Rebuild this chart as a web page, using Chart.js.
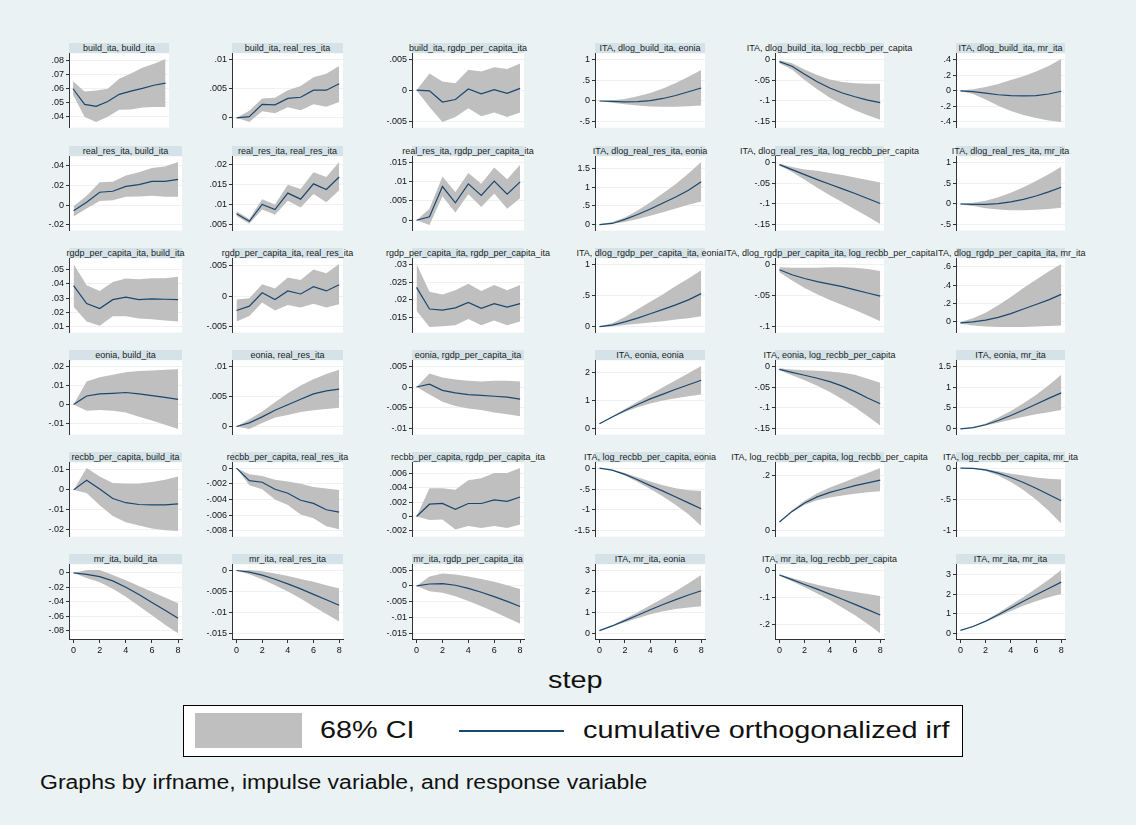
<!DOCTYPE html>
<html>
<head>
<meta charset="utf-8">
<script src="https://cdn.jsdelivr.net/npm/chart.js@4.4.0/dist/chart.umd.min.js"></script>
<style>
  body { margin: 0; background: #eaf2f3; font-family: "Liberation Sans", Arial, sans-serif; }
  #page { position: relative; width: 1136px; height: 825px; overflow: hidden; background: #eaf2f3; }
  canvas { position: absolute; }
  .ttl { position: absolute; height: 10px; background: #d5e3e9; display: flex; justify-content: center;
         align-items: center; font-size: 9px; color: #1b1b1b; white-space: nowrap; line-height: 10px; }
  .big { position: absolute; white-space: nowrap; color: #111; transform-origin: 0 50%; }
</style>
</head>
<body>
<div id="page">
  <div class="big" id="stepLabel" style="left:548px; top:666px; font-size:24px; transform:scaleX(1.2);">step</div>
  <div id="legendBox" style="position:absolute; left:183px; top:705px; width:778px; height:50px; border:1px solid #000; background:#fff;">
    <div style="position:absolute; left:11px; top:7px; width:107px; height:35px; background:#bfbfbf;"></div>
    <div class="big" style="left:136px; top:10px; font-size:24px; transform:scaleX(1.2);">68% CI</div>
    <div style="position:absolute; left:275px; top:24px; width:105px; height:2px; background:#1a476f;"></div>
    <div class="big" style="left:399px; top:10px; font-size:24px; transform:scaleX(1.2);">cumulative orthogonalized irf</div>
  </div>
  <div class="big" id="note" style="left:40px; top:771px; font-size:20px; transform:scaleX(1.15);">Graphs by irfname, impulse variable, and response variable</div>
</div>
<script>
// Horizon steps of the impulse-response functions
const steps = [0, 1, 2, 3, 4, 5, 6, 7, 8];
const stepTicks = ["0", "2", "4", "6", "8"];

// Panel titles, row by row (impulse, response)
const titles = [
  "build_ita, build_ita", "build_ita, real_res_ita", "build_ita, rgdp_per_capita_ita",
  "ITA, dlog_build_ita, eonia", "ITA, dlog_build_ita, log_recbb_per_capita", "ITA, dlog_build_ita, mr_ita",
  "real_res_ita, build_ita", "real_res_ita, real_res_ita", "real_res_ita, rgdp_per_capita_ita",
  "ITA, dlog_real_res_ita, eonia", "ITA, dlog_real_res_ita, log_recbb_per_capita", "ITA, dlog_real_res_ita, mr_ita",
  "rgdp_per_capita_ita, build_ita", "rgdp_per_capita_ita, real_res_ita", "rgdp_per_capita_ita, rgdp_per_capita_ita",
  "ITA, dlog_rgdp_per_capita_ita, eonia", "ITA, dlog_rgdp_per_capita_ita, log_recbb_per_capita", "ITA, dlog_rgdp_per_capita_ita, mr_ita",
  "eonia, build_ita", "eonia, real_res_ita", "eonia, rgdp_per_capita_ita",
  "ITA, eonia, eonia", "ITA, eonia, log_recbb_per_capita", "ITA, eonia, mr_ita",
  "recbb_per_capita, build_ita", "recbb_per_capita, real_res_ita", "recbb_per_capita, rgdp_per_capita_ita",
  "ITA, log_recbb_per_capita, eonia", "ITA, log_recbb_per_capita, log_recbb_per_capita", "ITA, log_recbb_per_capita, mr_ita",
  "mr_ita, build_ita", "mr_ita, real_res_ita", "mr_ita, rgdp_per_capita_ita",
  "ITA, mr_ita, eonia", "ITA, mr_ita, log_recbb_per_capita", "ITA, mr_ita, mr_ita"
];

// Row 1
const irf11 = [.060, .0488, .0474, .0508, .056, .0583, .0603, .0625, .064];
const lo11  = [.0557, .0397, .0362, .040, .045, .0452, .0465, .047, .047];
const hi11  = [.0653, .058, .0588, .060, .0672, .071, .075, .078, .0813];
const yt11  = [".04", ".05", ".06", ".07", ".08"];

const irf12 = [0, .0002, .0023, .0022, .0033, .0035, .0047, .0047, .0058];
const lo12  = [0, -.0007, .0011, .0008, .0018, .0013, .0023, .0019, .0027];
const hi12  = [0, .0012, .0033, .0034, .0047, .0054, .0069, .0075, .0088];
const yt12  = ["0", ".005", ".01"];

const irf13 = [0, -.0001, -.0019, -.0015, .0002, -.0006, .0001, -.0005, .0003];
const lo13  = [0, -.0027, -.0051, -.0043, -.0029, -.0042, -.0036, -.0043, -.0036];
const hi13  = [0, .0027, .0014, .0011, .0033, .0030, .0037, .0034, .0043];
const yt13  = ["-.005", "0", ".005"];

const irf14 = [0, -.01, -.02, -.015, .01, .06, .13, .22, .31];
const lo14  = [0, -.04, -.08, -.11, -.13, -.135, -.135, -.125, -.11];
const hi14  = [0, .015, .05, .11, .19, .30, .43, .58, .74];
const yt14  = ["-.5", "0", ".5", "1"];

const irf15 = [-.006, -.017, -.036, -.054, -.069, -.081, -.09, -.098, -.104];
const lo15  = [-.010, -.025, -.050, -.072, -.092, -.108, -.122, -.134, -.145];
const hi15  = [-.003, -.010, -.025, -.038, -.049, -.055, -.058, -.059, -.059];
const yt15  = ["-.15", "-.1", "-.05", "0"];

const irf16 = [0, -.01, -.03, -.05, -.06, -.065, -.06, -.04, -.005];
const lo16  = [-.005, -.04, -.11, -.19, -.26, -.31, -.35, -.38, -.40];
const hi16  = [.005, .02, .05, .09, .14, .19, .25, .32, .41];
const yt16  = ["-.4", "-.2", "0", ".2", ".4"];

// Row 2
const irf21 = [-.0056, .003, .013, .014, .019, .0207, .024, .024, .026];
const lo21  = [-.0116, -.0035, .0042, .0049, .0084, .0088, .0095, .0084, .0084];
const hi21  = [-.001, .0095, .023, .0235, .030, .0333, .0375, .039, .0435];
const yt21  = ["-.02", "0", ".02", ".04"];

const irf22 = [.0078, .0059, .0101, .0088, .0129, .0114, .0152, .0138, .0169];
const lo22  = [.0072, .0053, .0088, .0075, .0110, .0093, .0127, .0106, .0136];
const hi22  = [.0084, .0065, .0114, .0101, .0150, .0139, .0181, .0169, .0206];
const yt22  = [".005", ".01", ".015", ".02"];

const irf23 = [0, .0009, .0087, .0045, .0094, .0064, .0101, .0067, .0099];
const lo23  = [0, -.0012, .0062, .002, .0067, .0034, .0069, .003, .0057];
const hi23  = [0, .003, .0113, .0073, .0122, .0094, .0136, .0106, .0143];
const yt23  = ["0", ".005", ".01", ".015"];

const irf24 = [0, .03, .14, .27, .42, .58, .74, .92, 1.15];
const lo24  = [-.01, .02, .07, .15, .24, .33, .43, .53, .62];
const hi24  = [.01, .07, .19, .38, .60, .84, 1.09, 1.37, 1.68];
const yt24  = ["0", ".5", "1", "1.5"];

const irf25 = [-.006, -.018, -.03, -.042, -.053, -.064, -.075, -.087, -.099];
const lo25  = [-.008, -.024, -.042, -.061, -.079, -.096, -.113, -.13, -.148];
const hi25  = [-.004, -.012, -.018, -.021, -.026, -.031, -.037, -.043, -.049];
const yt25  = ["-.15", "-.1", "-.05", "0"];

const irf26 = [0, -.01, -.01, .01, .05, .11, .19, .29, .40];
const lo26  = [-.01, -.05, -.10, -.13, -.15, -.15, -.14, -.12, -.09];
const hi26  = [.01, .03, .08, .16, .27, .40, .55, .71, .89];
const yt26  = ["-.5", "0", ".5", "1"];

// Row 3
const irf31 = [.0388, .0263, .0228, .029, .0308, .029, .0295, .0293, .029];
const lo31  = [.024, .0138, .0108, .0175, .0175, .0158, .0153, .0145, .0138];
const hi31  = [.0538, .039, .035, .0413, .0438, .0433, .044, .044, .045];
const yt31  = [".01", ".02", ".03", ".04", ".05"];

const irf32 = [-.0023, -.0016, .0006, -.0005, .0009, .0004, .0016, .0009, .0019];
const lo32  = [-.0041, -.0032, -.001, -.0023, -.0014, -.0018, -.0012, -.0018, -.0013];
const hi32  = [-.0005, -.0003, .002, .0013, .0031, .0027, .0044, .0038, .0053];
const yt32  = ["-.005", "0", ".005"];

const irf33 = [.0235, .0175, .0172, .0178, .0193, .0177, .019, .018, .019];
const lo33  = [.017, .0125, .0127, .013, .0147, .013, .0143, .013, .014];
const hi33  = [.030, .0223, .0215, .0227, .0245, .0225, .0242, .0227, .0242];
const yt33  = [".015", ".02", ".025", ".03"];

const irf34 = [.005, .03, .08, .14, .21, .28, .35, .43, .53];
const lo34  = [0, .01, .03, .05, .07, .09, .12, .14, .17];
const hi34  = [.01, .06, .16, .28, .40, .52, .65, .77, .90];
const yt34  = ["0", ".5", "1"];

const irf35 = [-.009, -.017, -.023, -.028, -.032, -.036, -.041, -.046, -.051];
const lo35  = [-.013, -.026, -.038, -.048, -.057, -.065, -.073, -.082, -.091];
const hi35  = [-.005, -.006, -.006, -.006, -.005, -.005, -.006, -.008, -.011];
const yt35  = ["-.1", "-.05", "0"];

const irf36 = [-.01, 0, .02, .05, .09, .14, .19, .24, .30];
const lo36  = [-.02, -.04, -.05, -.055, -.055, -.055, -.05, -.045, -.04];
const hi36  = [0, .04, .10, .18, .27, .37, .46, .55, .63];
const yt36  = ["0", ".2", ".4", ".6"];

// Row 4
const irf41 = [0, .0044, .0055, .0058, .0062, .0055, .0046, .0037, .0026];
const lo41  = [0, -.0033, -.0029, -.0033, -.0042, -.0064, -.0084, -.0106, -.0128];
const hi41  = [0, .0119, .0141, .0155, .0168, .0174, .0177, .0181, .0183];
const yt41  = ["-.01", "0", ".01", ".02"];

const irf42 = [0, .0006, .0016, .0027, .0036, .0045, .0054, .0059, .0062];
const lo42  = [0, -.0004, .0006, .0015, .0019, .0024, .0027, .0029, .0031];
const hi42  = [0, .0012, .0025, .004, .0055, .0068, .0078, .0087, .0094];
const yt42  = ["0", ".005", ".01"];

const irf43 = [0, .0007, -.0008, -.0014, -.0018, -.002, -.0022, -.0024, -.0029];
const lo43  = [0, -.0018, -.0035, -.0045, -.0051, -.0055, -.0061, -.0065, -.007];
const hi43  = [0, .0032, .0023, .0018, .0015, .0013, .0015, .0015, .0013];
const yt43  = ["-.01", "-.005", "0", ".005"];

const irf44 = [.18, .42, .65, .86, 1.06, 1.23, 1.40, 1.56, 1.72];
const lo44  = [.17, .40, .60, .77, .90, 1.00, 1.08, 1.15, 1.22];
const hi44  = [.19, .44, .70, .96, 1.22, 1.47, 1.72, 1.97, 2.22];
const yt44  = ["0", "1", "2"];

const irf45 = [-.008, -.015, -.022, -.029, -.037, -.048, -.061, -.076, -.09];
const lo45  = [-.010, -.022, -.034, -.047, -.062, -.079, -.098, -.12, -.142];
const hi45  = [-.005, -.008, -.010, -.011, -.013, -.016, -.021, -.03, -.04];
const yt45  = ["-.15", "-.1", "-.05", "0"];

const irf46 = [0, .03, .10, .20, .32, .45, .59, .73, .86];
const lo46  = [0, .025, .08, .15, .22, .29, .35, .40, .45];
const hi46  = [0, .04, .13, .27, .43, .61, .81, 1.04, 1.29];
const yt46  = ["0", ".5", "1", "1.5"];

// Row 5
const irf51 = [0, .0048, .0004, -.0043, -.0064, -.0073, -.0075, -.0075, -.007];
const lo51  = [0, -.0015, -.0077, -.013, -.0162, -.0178, -.0193, -.0202, -.0205];
const hi51  = [0, .0109, .0067, .0035, .0032, .0032, .0039, .005, .0067];
const yt51  = ["-.02", "-.01", "0", ".01"];

const irf52 = [0, -.0016, -.0018, -.0027, -.0032, -.0041, -.0045, -.0053, -.0056];
const lo52  = [0, -.0022, -.0027, -.004, -.0047, -.0059, -.0064, -.0074, -.0078];
const hi52  = [0, -.0008, -.001, -.0015, -.0017, -.002, -.0024, -.0026, -.0028];
const yt52  = ["-.008", "-.006", "-.004", "-.002", "0"];

const irf53 = [0, .0017, .0018, .001, .0018, .0018, .0023, .0021, .0027];
const lo53  = [0, -.0005, -.0004, -.0018, -.0013, -.0016, -.0013, -.0016, -.0011];
const hi53  = [0, .0039, .0039, .0037, .005, .0053, .006, .006, .0067];
const yt53  = ["-.002", "0", ".002", ".004", ".006"];

const irf54 = [0, -.05, -.15, -.28, -.42, -.55, -.69, -.83, -.97];
const lo54  = [0, -.06, -.18, -.33, -.50, -.68, -.88, -1.10, -1.38];
const hi54  = [0, -.04, -.12, -.22, -.32, -.41, -.48, -.53, -.55];
const yt54  = ["-1.5", "-1", "-.5", "0"];

const irf55 = [.032, .07, .10, .122, .138, .15, .162, .172, .182];
const lo55  = [.03, .066, .094, .11, .12, .127, .133, .138, .142];
const hi55  = [.034, .074, .108, .135, .155, .172, .19, .207, .225];
const yt55  = ["0", ".2"];

const irf56 = [0, -.005, -.03, -.08, -.15, -.23, -.32, -.42, -.52];
const lo56  = [0, -.01, -.045, -.12, -.22, -.35, -.50, -.68, -.88];
const hi56  = [0, -.003, -.02, -.05, -.09, -.12, -.15, -.17, -.18];
const yt56  = ["-1", "-.5", "0"];

// Row 6
const irf61 = [0, -.002, -.005, -.011, -.02, -.03, -.041, -.052, -.063];
const lo61  = [0, -.007, -.013, -.022, -.033, -.046, -.059, -.072, -.084];
const hi61  = [0, .004, .004, -.003, -.01, -.018, -.026, -.034, -.042];
const yt61  = ["-.08", "-.06", "-.04", "-.02", "0"];

const irf62 = [0, -.0004, -.0011, -.0021, -.0032, -.0044, -.0057, -.007, -.0083];
const lo62  = [0, -.0009, -.0021, -.0035, -.005, -.0067, -.0086, -.0104, -.0122];
const hi62  = [0, .0001, -.0002, -.0007, -.0013, -.002, -.0027, -.0035, -.0043];
const yt62  = ["-.015", "-.01", "-.005", "0"];

const irf63 = [0, .0006, .0007, .0002, -.0008, -.002, -.0034, -.0049, -.0065];
const lo63  = [0, -.0017, -.0022, -.0033, -.0048, -.0064, -.0082, -.0101, -.012];
const hi63  = [0, .003, .0039, .0036, .003, .0022, .0013, .0002, -.001];
const yt63  = ["-.015", "-.01", "-.005", "0", ".005"];

const irf64 = [.13, .35, .60, .86, 1.12, 1.37, 1.60, 1.82, 2.02];
const lo64  = [.12, .32, .52, .72, .90, 1.05, 1.15, 1.23, 1.28];
const hi64  = [.14, .38, .68, 1.0, 1.33, 1.66, 2.0, 2.37, 2.77];
const yt64  = ["0", "1", "2", "3"];

const irf65 = [-.018, -.035, -.053, -.07, -.088, -.107, -.126, -.145, -.165];
const lo65  = [-.021, -.041, -.063, -.086, -.11, -.138, -.166, -.198, -.232];
const hi65  = [-.015, -.029, -.042, -.054, -.064, -.073, -.08, -.088, -.095];
const yt65  = ["-.2", "-.1", "0"];

const irf66 = [.15, .35, .62, .95, 1.30, 1.65, 1.98, 2.30, 2.63];
const lo66  = [.14, .33, .58, .86, 1.15, 1.42, 1.65, 1.85, 2.02];
const hi66  = [.16, .37, .67, 1.05, 1.45, 1.87, 2.30, 2.75, 3.25];
const yt66  = ["0", "1", "2", "3"];

const panelData = [
  [irf11, lo11, hi11, yt11], [irf12, lo12, hi12, yt12], [irf13, lo13, hi13, yt13],
  [irf14, lo14, hi14, yt14], [irf15, lo15, hi15, yt15], [irf16, lo16, hi16, yt16],
  [irf21, lo21, hi21, yt21], [irf22, lo22, hi22, yt22], [irf23, lo23, hi23, yt23],
  [irf24, lo24, hi24, yt24], [irf25, lo25, hi25, yt25], [irf26, lo26, hi26, yt26],
  [irf31, lo31, hi31, yt31], [irf32, lo32, hi32, yt32], [irf33, lo33, hi33, yt33],
  [irf34, lo34, hi34, yt34], [irf35, lo35, hi35, yt35], [irf36, lo36, hi36, yt36],
  [irf41, lo41, hi41, yt41], [irf42, lo42, hi42, yt42], [irf43, lo43, hi43, yt43],
  [irf44, lo44, hi44, yt44], [irf45, lo45, hi45, yt45], [irf46, lo46, hi46, yt46],
  [irf51, lo51, hi51, yt51], [irf52, lo52, hi52, yt52], [irf53, lo53, hi53, yt53],
  [irf54, lo54, hi54, yt54], [irf55, lo55, hi55, yt55], [irf56, lo56, hi56, yt56],
  [irf61, lo61, hi61, yt61], [irf62, lo62, hi62, yt62], [irf63, lo63, hi63, yt63],
  [irf64, lo64, hi64, yt64], [irf65, lo65, hi65, yt65], [irf66, lo66, hi66, yt66]
];

// Grid geometry of the 6 x 6 panel layout
const colLeft  = [69, 232, 412, 595, 775, 956];
const colWidth = [113, 111, 112, 110, 109, 109];
const firstPanelWidth = 100;   // the top-left panel's plot region is narrower
const rowTop   = [43, 146, 248, 350, 452, 554];
const TITLE_H = 10, PLOT_H = 75;
const AXW = 40, PAD_T = 7, PAD_B = 7, PAD_R = 4, XAX_H = 18;

const FONT = '"Liberation Sans", Arial, sans-serif';
const BAND = '#bfbfbf';
const LINE = '#1a476f';

const whiteArea = {
  id: 'whiteArea',
  beforeDraw(chart) {
    const a = chart.chartArea, ctx = chart.ctx;
    ctx.save();
    ctx.fillStyle = '#ffffff';
    ctx.fillRect(a.left, a.top, a.right - a.left, a.bottom - a.top);
    ctx.restore();
  }
};

const page = document.getElementById('page');

panelData.forEach((pd, k) => {
  const [irf, lo, hi, ytLabels] = pd;
  const r = Math.floor(k / 6), c = k % 6;
  const bottomRow = r === 5;
  const left = colLeft[c];
  const w = k === 0 ? firstPanelWidth : colWidth[c];
  const plotTop = rowTop[r] + TITLE_H;

  // panel title strip
  const t = document.createElement('div');
  t.className = 'ttl';
  t.style.left = left + 'px';
  t.style.top = rowTop[r] + 'px';
  t.style.width = w + 'px';
  t.innerHTML = '<span>' + titles[k] + '</span>';
  page.appendChild(t);

  // y range: data and ticks with a margin
  const tickVals = ytLabels.map(Number);
  const allLo = Math.min(...lo, ...irf, ...tickVals);
  const allHi = Math.max(...hi, ...irf, ...tickVals);
  const pad = (allHi - allLo) * 0.09;

  const cv = document.createElement('canvas');
  const cw = AXW + w + PAD_R;
  const ch = PAD_T + PLOT_H + PAD_B + (bottomRow ? XAX_H : 0);
  cv.width = cw; cv.height = ch;
  cv.style.left = (left - AXW) + 'px';
  cv.style.top = (plotTop - PAD_T) + 'px';
  cv.style.width = cw + 'px'; cv.style.height = ch + 'px';
  page.appendChild(cv);

  const pts = arr => steps.map((s, i) => ({ x: s, y: arr[i] }));

  new Chart(cv, {
    type: 'line',
    data: {
      datasets: [
        // the irf line sits first so it is painted above the band
        { data: pts(irf), fill: false, borderColor: LINE, borderWidth: 1.2, pointRadius: 0, tension: 0 },
        { data: pts(hi), fill: '+1', backgroundColor: BAND, borderWidth: 0, pointRadius: 0, tension: 0 },
        { data: pts(lo), fill: false, borderWidth: 0, pointRadius: 0, tension: 0 }
      ]
    },
    options: {
      responsive: false,
      animation: false,
      devicePixelRatio: 1,
      layout: { padding: { left: 0, right: PAD_R, top: PAD_T, bottom: PAD_B } },
      plugins: { legend: { display: false }, tooltip: { enabled: false }, title: { display: false } },
      scales: {
        x: {
          type: 'linear', min: -0.35, max: 8.3,
          display: bottomRow,
          afterBuildTicks: s => { s.ticks = stepTicks.map(v => ({ value: Number(v) })); },
          afterFit: s => { s.height = bottomRow ? XAX_H : 0; },
          ticks: { callback: (v, i) => stepTicks[i], font: { size: 9, family: FONT }, color: '#111',
                   padding: 2, maxRotation: 0, autoSkip: false },
          grid: { drawOnChartArea: false, drawTicks: true, tickLength: 4, tickColor: '#333' },
          border: { display: true, color: '#333', width: 1 }
        },
        y: {
          type: 'linear', min: allLo - pad, max: allHi + pad,
          afterFit: s => { s.width = AXW; },
          afterBuildTicks: s => { s.ticks = tickVals.map(v => ({ value: v })); },
          ticks: { callback: (v, i) => ytLabels[i], font: { size: 9, family: FONT }, color: '#111',
                   padding: 2, autoSkip: false },
          grid: { color: '#edf2f4', lineWidth: 1, drawTicks: true, tickLength: 3, tickColor: '#333' },
          border: { display: true, color: '#333', width: 1 }
        }
      }
    },
    plugins: [whiteArea]
  });
});
</script>
</body>
</html>
